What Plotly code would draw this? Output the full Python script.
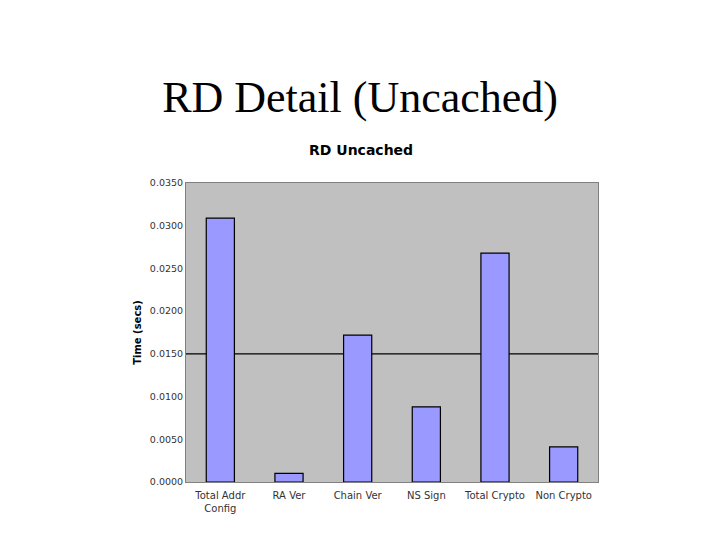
import plotly.graph_objects as go

# RD timing breakdown, uncached case
categories = ["Total Addr<br>Config", "RA Ver", "Chain Ver", "NS Sign", "Total Crypto", "Non Crypto"]
times = [0.0309, 0.0010, 0.0172, 0.0088, 0.0268, 0.0041]
y_ticks = [0.0, 0.005, 0.010, 0.015, 0.020, 0.025, 0.030, 0.035]
y_tick_labels = ["0.0000", "0.0050", "0.0100", "0.0150", "0.0200", "0.0250", "0.0300", "0.0350"]
ref_line = 0.015

fig = go.Figure()

fig.add_trace(go.Bar(
   x=categories, y=times,
   marker=dict(color="#9999FF", line=dict(color="black", width=1.2)),
   width=0.41, hoverinfo="skip"
))

# the single horizontal line behind the bars
fig.add_shape(type="line", xref="paper", yref="y",
              x0=0, x1=1, y0=ref_line, y1=ref_line,
              line=dict(color="black", width=1.2), layer="below")

# chart title sits left of the plot centre (centred over axis title + plot)
fig.add_annotation(text="<b>RD Uncached</b>", xref="paper", yref="paper",
                   x=0.425, y=1.11, yanchor="middle", showarrow=False,
                   font=dict(family="DejaVu Sans", size=14, color="black"))

fig.update_layout(
   width=720, height=540,
   margin=dict(l=178, r=130, t=175, b=66),
   paper_bgcolor="white", plot_bgcolor="#C0C0C0",
   showlegend=False,
   title=dict(text="RD Detail (Uncached)", x=0.489, xanchor="center",
              y=1 - 89 / 540, yanchor="middle", yref="container",
              font=dict(family="Liberation Serif", size=44, color="black")),
   xaxis=dict(showgrid=False, ticks="", showline=True, linecolor="#808080", mirror=True,
              ticklabelstandoff=4,
              tickfont=dict(family="DejaVu Sans", size=10, color="#333")),
   yaxis=dict(range=[0, 0.035], tickvals=y_ticks, ticktext=y_tick_labels,
              showgrid=False, zeroline=False, ticks="",
              showline=True, linecolor="#808080", mirror=True,
              tickfont=dict(family="DejaVu Sans", size=9.5, color="#333"),
              title=dict(text="<b>Time (secs)</b>", standoff=6,
                         font=dict(family="DejaVu Sans", size=10, color="black"))),
)

fig.write_html("out.html")
